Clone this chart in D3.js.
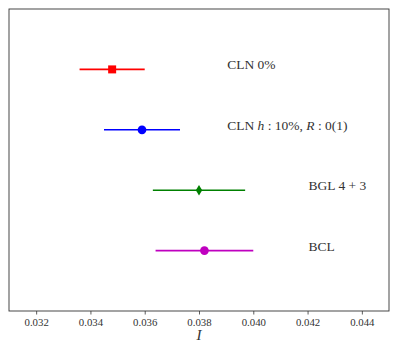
<!DOCTYPE html>
<html>
<head>
<script src="https://d3js.org/d3.v7.min.js"></script>
<style>
  body { margin: 0; background: #fff; }
  .axis text { font: 10.8px "Liberation Serif", serif; fill: #333; }
  .lbl { font: 13.5px "Liberation Serif", serif; fill: #333; }
</style>
</head>
<body>
<svg id="chart"></svg>
<script>
// measurements, top to bottom
var names = ["CLN 0%", "CLN h10", "BGL 4 + 3", "BCL"];
var values = [0.0348, 0.0359, 0.0380, 0.0382];
var lows = [0.0336, 0.0345, 0.0363, 0.0364];
var highs = [0.0360, 0.0373, 0.0397, 0.0400];
var rows = [4, 3, 2, 1];
var colors = ["#ff0000", "#0000ff", "#008000", "#bf00bf"];
var shapes = ["square", "circle", "diamond", "circle"];
var labelX = [0.039, 0.039, 0.042, 0.042];
var xTicks = [0.032, 0.034, 0.036, 0.038, 0.040, 0.042, 0.044];

var W = 399, H = 349;
var margin = { left: 9, right: 10, top: 9, bottom: 38 };

var svg = d3.select('#chart').attr('width', W).attr('height', H);

var x = d3.scaleLinear().domain([0.031, 0.045]).range([margin.left, W - margin.right]);
var y = d3.scaleLinear().domain([0, 5]).range([H - margin.bottom, margin.top]);

var data = names.map((n, i) => ({
  name: n, v: values[i], lo: lows[i], hi: highs[i], row: rows[i],
  color: colors[i], shape: shapes[i], lx: labelX[i]
}));

// error bars
svg.selectAll('.err').data(data).enter().append('line')
  .attr('x1', d => x(d.lo)).attr('x2', d => x(d.hi))
  .attr('y1', d => y(d.row)).attr('y2', d => y(d.row))
  .attr('stroke', d => d.color).attr('stroke-width', 1.6);

// markers
svg.selectAll('.pt').data(data).enter().append('path')
  .attr('transform', d => `translate(${x(d.v)},${y(d.row)})`)
  .attr('fill', d => d.color)
  .attr('d', d => {
    if (d.shape === 'square') return 'M-4,-4H4V4H-4Z';
    if (d.shape === 'diamond') return 'M0,-5.2L3.2,0L0,5.2L-3.2,0Z';
    return d3.symbol(d3.symbolCircle, 60)();
  });

// labels
var lbl = svg.selectAll('.lbl').data(data).enter().append('text')
  .attr('class', 'lbl')
  .attr('x', d => x(d.lx) + 1).attr('y', d => y(d.row));
lbl.each(function (d) {
  var t = d3.select(this);
  if (d.name === 'CLN h10') {
    t.append('tspan').text('CLN ');
    t.append('tspan').attr('font-style', 'italic').text('h');
    t.append('tspan').text(' : 10%, ');
    t.append('tspan').attr('font-style', 'italic').text('R');
    t.append('tspan').text(' : 0(1)');
  } else {
    t.text(d.name);
  }
});

// frame
svg.append('rect')
  .attr('x', margin.left).attr('y', margin.top)
  .attr('width', W - margin.left - margin.right)
  .attr('height', H - margin.top - margin.bottom)
  .attr('fill', 'none').attr('stroke', '#333').attr('stroke-width', 0.9);

var xAxis = d3.axisBottom(x).tickValues(xTicks).tickFormat(d3.format('.3f'))
  .tickSize(3.5).tickPadding(4);
var gx = svg.append('g').attr('class', 'axis')
  .attr('transform', `translate(0,${H - margin.bottom})`).call(xAxis);
gx.select('.domain').remove();
gx.selectAll('.tick line').attr('stroke', '#333').attr('stroke-width', 0.8);

svg.append('text')
  .attr('x', x(0.038)).attr('y', 340)
  .attr('text-anchor', 'middle')
  .attr('font-family', '"Liberation Serif", serif')
  .attr('font-style', 'italic').attr('font-size', 15).attr('fill', '#333')
  .text('I');
</script>
</body>
</html>
